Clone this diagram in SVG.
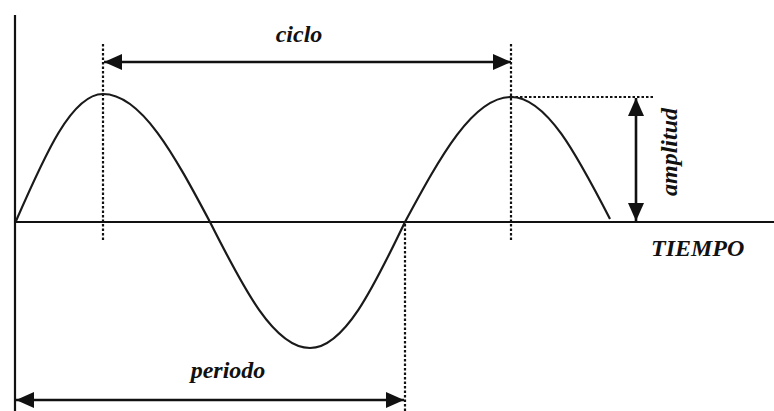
<svg xmlns="http://www.w3.org/2000/svg" width="774" height="411" viewBox="0 0 774 411">
<style>
.axis{stroke:#111;stroke-width:2.2;fill:none}
.wave{stroke:#1a1a1a;stroke-width:2.2;fill:none}
.dot{stroke:#111;stroke-width:2.2;stroke-dasharray:2.5 2;fill:none}
.arr{stroke:#111;stroke-width:2.6;fill:none;marker-start:url(#ah);marker-end:url(#ah)}
.lbl{font-family:"Liberation Serif","Times New Roman",serif;font-weight:bold;font-style:italic;font-size:24px;fill:#111}
</style>
<defs>
<marker id="ah" markerUnits="userSpaceOnUse" markerWidth="19" markerHeight="17" refX="18" refY="8" orient="auto-start-reverse" viewBox="0 0 19 17">
<path d="M0,0 L18,8 L0,16 z" fill="#111"/>
</marker>
</defs>
<rect width="774" height="411" fill="#fff"/>
<g id="axes">
<line class="axis" x1="15" y1="15" x2="15" y2="411"/>
<line class="axis" x1="15" y1="222" x2="774" y2="222"/>
</g>
<g id="guides">
<line class="dot" x1="103" y1="44" x2="103" y2="240"/>
<line class="dot" x1="511" y1="44" x2="511" y2="240"/>
<line class="dot" x1="511" y1="97" x2="655" y2="97"/>
<line class="dot" x1="405" y1="224" x2="405" y2="411"/>
</g>
<g id="wave">
<path class="wave" d="M16,221 C45.1,154.3 71.8,94 103,94 C141.4,94 174.2,154.8 210,222 C243.4,288.2 274.1,348 310,348 C344.1,348 373.2,288.2 405,222 C440.4,156.4 473,97 511,97 C546.5,97 576.9,154.9 610,219"/>
</g>
<g id="connectors">
<line class="arr" x1="104" y1="62" x2="511" y2="62"/>
<line class="arr" x1="636" y1="98" x2="636" y2="221"/>
<line class="arr" x1="16" y1="400" x2="404" y2="400"/>
</g>
<g id="label-ciclo"><text class="lbl" x="299" y="42" text-anchor="middle">ciclo</text></g>
<g id="label-amplitud"><text class="lbl" transform="translate(677,152) rotate(-90)" text-anchor="middle">amplitud</text></g>
<g id="label-tiempo"><text class="lbl" x="651" y="256">TIEMPO</text></g>
<g id="label-periodo"><text class="lbl" x="228" y="378" text-anchor="middle">periodo</text></g>
</svg>
